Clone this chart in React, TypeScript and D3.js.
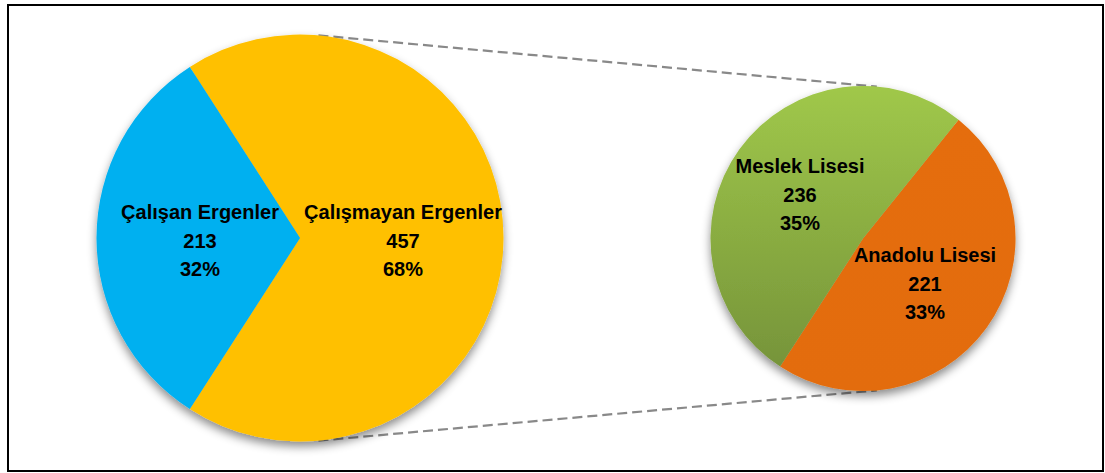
import { arc, pie, PieArcDatum } from "d3"

// left pie: the whole group
const mainLabels = ["Çalışmayan Ergenler", "Çalışan Ergenler"]
const mainValues = [457, 213]
const mainColors = ["#FFC000", "#00B0F0"]

// right pie: breakdown of "Çalışmayan Ergenler"
const subLabels = ["Anadolu Lisesi", "Meslek Lisesi"]
const subValues = [221, 236]
const subColors = ["url(#gOrange)", "url(#gGreen)"]

const total = mainValues.reduce((a, b) => a + b, 0)
const deg = Math.PI / 180

const App = () => {
    const W = 1105
    const H = 473

    const c1 = { x: 300, y: 238, r: 203.5 }
    const c2 = { x: 863, y: 238.5, r: 152.5 }

    // rotate so the "other" slice sits centered on the right side
    const otherSpan = mainValues[0] / total * 2 * Math.PI
    const mainPie = pie<number>().sort(null).startAngle(Math.PI / 2 - otherSpan / 2)
        .endAngle(Math.PI / 2 - otherSpan / 2 + 2 * Math.PI)
    const subPie = pie<number>().sort(null).startAngle(38.8 * deg).endAngle(38.8 * deg + 2 * Math.PI)

    const mainArcs = mainPie(mainValues)
    const subArcs = subPie(subValues)

    const arc1 = arc<PieArcDatum<number>>().innerRadius(0).outerRadius(c1.r)
    const arc2 = arc<PieArcDatum<number>>().innerRadius(0).outerRadius(c2.r)

    // external tangents between the two circles
    const d = c2.x - c1.x
    const th = Math.asin((c1.r - c2.r) / d)
    const tangent = (sign: number) => ({
        x1: c1.x + c1.r * Math.sin(th), y1: c1.y + sign * c1.r * Math.cos(th),
        x2: c2.x + c2.r * Math.sin(th), y2: c2.y + sign * c2.r * Math.cos(th),
    })
    const lines = [tangent(-1), tangent(1)]

    const mainLabelPos = [[403, 212], [200, 212]]
    const subLabelPos = [[925, 255], [800, 166]]
    const lh = 28.5

    const label = (name: string, v: number, pos: number[], key: string) => (
        <text key={key} textAnchor="middle" fontFamily="'Liberation Sans', Arial, sans-serif"
            fontWeight="bold" fontSize={20} fill="#000">
            {[name, String(v), Math.round(v / total * 100) + "%"].map((t, i) => (
                <tspan key={i} x={pos[0]} y={pos[1] + i * lh} dy="0.35em">{t}</tspan>
            ))}
        </text>
    )

    return (
        <svg width={W} height={H} style={{ position: "absolute", left: 0, top: 0, background: "#fff" }}>
            <defs>
                <linearGradient id="gGreen" x1="0" y1="0" x2="0" y2="1">
                    <stop offset="0" stopColor="#A0C84A" />
                    <stop offset="1" stopColor="#76943A" />
                </linearGradient>
                <linearGradient id="gOrange" x1="0" y1="0" x2="0" y2="1">
                    <stop offset="0" stopColor="#E56D0B" />
                    <stop offset="1" stopColor="#E36C09" />
                </linearGradient>
                <filter id="shadow" x="-20%" y="-20%" width="140%" height="140%">
                    <feDropShadow dx="0" dy="5" stdDeviation="5" floodColor="#000" floodOpacity="0.45" />
                </filter>
            </defs>
            <rect x={8} y={5} width={1095} height={466} fill="#fff" stroke="#000" strokeWidth={2} />

            {lines.map((l, i) => (
                <line key={i} {...l} stroke="#898989" strokeWidth={2.2} strokeDasharray="10 5" />
            ))}

            <g transform={`translate(${c1.x},${c1.y})`} filter="url(#shadow)">
                {mainArcs.map((a, i) => (
                    <path key={i} d={arc1(a) ?? ""} fill={mainColors[i]} />
                ))}
            </g>
            <g transform={`translate(${c2.x},${c2.y})`} filter="url(#shadow)">
                {subArcs.map((a, i) => (
                    <path key={i} d={arc2(a) ?? ""} fill={subColors[i]} />
                ))}
            </g>

            {mainLabels.map((n, i) => label(n, mainValues[i], mainLabelPos[i], "m" + i))}
            {subLabels.map((n, i) => label(n, subValues[i], subLabelPos[i], "s" + i))}
        </svg>
    )
}

export default App
